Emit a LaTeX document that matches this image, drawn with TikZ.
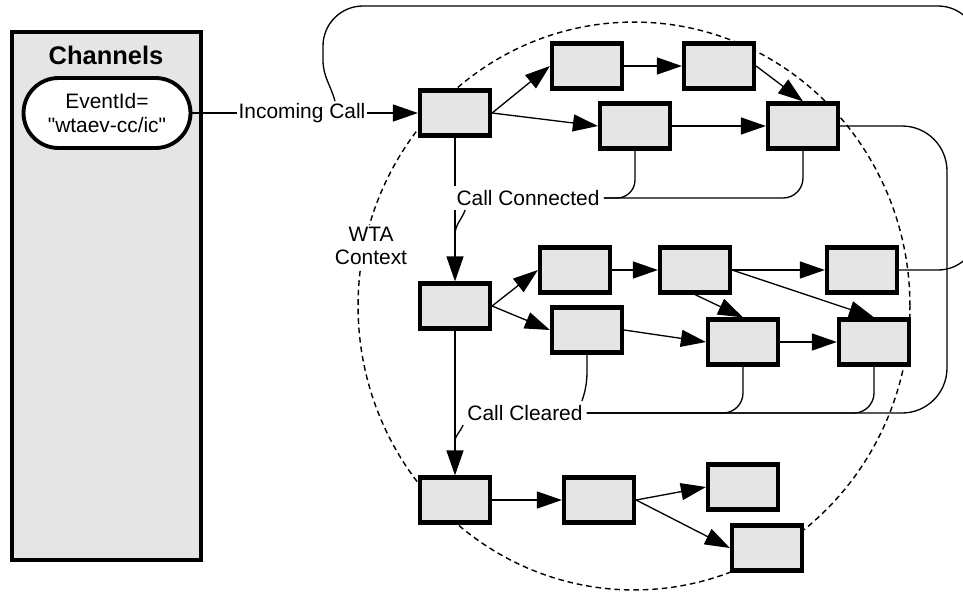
\documentclass[tikz,border=0pt]{standalone}
\usepackage{fontspec}
\setmainfont{Liberation Sans}
\newfontfamily\sansdroit{Liberation Sans}
\usetikzlibrary{arrows.meta}
\definecolor{gris}{RGB}{229,229,229}

\begin{document}
\begin{tikzpicture}[x=0.02cm,y=-0.02cm,
  every node/.style={font=\fontsize{11.9}{13.2}\selectfont},
  etat/.style={draw,line width=2.4pt,fill=gris,minimum width=1.4cm,minimum height=0.9cm,inner sep=0pt},
  lien/.style={line width=0.75pt},
  fl/.style={line width=0.75pt,-{Triangle[length=0.5cm,width=0.34cm]}}]
\clip (0,0) rectangle (963,592);
\draw [line width=0.8pt, dash pattern=on 3.2pt off 2.2pt] (634,306) ellipse [x radius=5.52cm, y radius=5.68cm];

% channels
\node [draw, line width=2.4pt, fill=gris, minimum width=3.78cm, minimum height=10.56cm] (chan) at (106.5,296) {};
\node [font=\bfseries\fontsize{14.5}{16}\selectfont] (titre) at (106,55) {Channels};
\node [draw, line width=2.2pt, fill=white, rounded corners=0.7cm, minimum width=3.34cm, minimum height=1.4cm, align=center, font=\sansdroit\fontsize{11.9}{13.2}\selectfont] (evt) at (107,113) {EventId=\\"wtaev-cc/ic"};

\node [fill=white, align=center, inner sep=1pt] (wta) at (371,246) {WTA\\Context};

\foreach \n/\x/\y in {1/455/113, 2/587/66, 3/635/126, 4/719/66, 5/803/126,
  6/455/306, 7/575/270, 8/587/330, 9/695/270, 10/862/270, 11/743/342, 12/874/342,
  13/455/500, 14/599/500, 15/743/487, 16/767/548}
  {\node [etat] (b\n) at (\x,\y) {};}

\node [inner sep=1pt] (inc) at (302,113) {Incoming Call};
\node [inner sep=0.08cm] (ccon) at (528,198) {Call Connected};
\node [inner sep=0.08cm] (cclr) at (525,413) {Call Cleared};

\draw [lien] (evt.east) -- (inc.west);
\draw [fl] (inc.east) -- (b1.west);
\foreach \a/\b in {b1.east/b2.west, b1.east/b3.west, b2.east/b4.west, b3.east/b5.west, b4.east/b5.north,
  b6.east/b7.west, b6.east/b8.west, b7.east/b9.west, b8.east/b11.west, b9.east/b10.west,
  b9.south/b11.north, b9.east/b12.north, b11.east/b12.west,
  b13.east/b14.west, b14.east/b15.west, b14.east/b16.west}
  {\draw [fl] (\a) -- (\b);}

\draw [lien] (b1.south) -- (b1.south |- ccon.north);
\draw [fl] (b1.south |- ccon.south) -- (b6.north);
\draw [fl] (b6.south) -- (b13.north);

\draw [lien, rounded corners=0.36cm] (b3.south) |- (ccon.east);
\draw [lien, rounded corners=0.4cm] (b5.south) |- (ccon.east);
\draw [lien] ([xshift=0.26cm]ccon.south west) to[out=-110,in=90] (455,235);

\draw [lien, rounded corners=0.4cm] (b11.south) |- (cclr.east);
\draw [lien, rounded corners=0.4cm] (b12.south) |- (cclr.east);
\draw [lien, rounded corners=0.9cm] (b5.east) -| (947,413) -- (cclr.east);
\draw [lien] (b8.south) to[out=-90,in=70] ([xshift=-0.1cm]cclr.north east);
\draw [lien] (cclr.south west) to[out=-110,in=90] (455,442);

\draw [lien] ([xshift=0.66cm]inc.north) to[out=105,in=-90] (323,60) [rounded corners=0.8cm] -- (323,6) -- (978,6) -- (978,270) -- (b10.east);

\end{tikzpicture}
\end{document}
